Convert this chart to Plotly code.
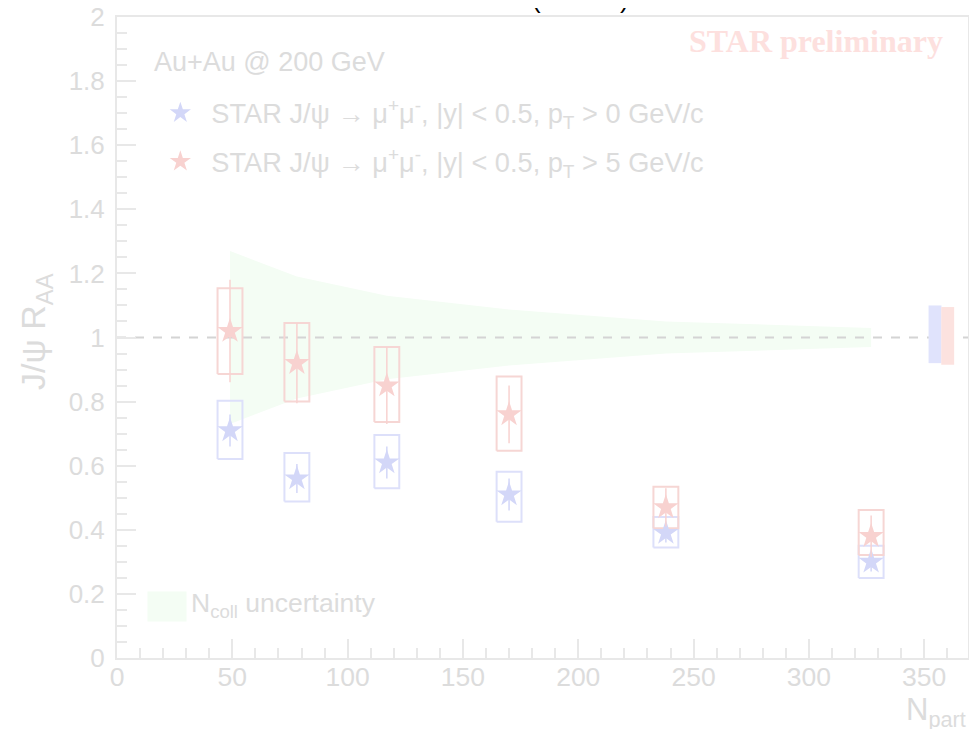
import plotly.graph_objects as go

# ---------------- data ----------------
npart = [49, 78, 117, 170, 238, 327]

# pT > 0 GeV/c (blue)
raa_pt0 = [0.71, 0.56, 0.61, 0.51, 0.39, 0.30]
stat_pt0 = [0.05, 0.045, 0.05, 0.05, 0.03, 0.03]
sys_hi_pt0 = [0.803, 0.64, 0.696, 0.581, 0.44, 0.35]
sys_lo_pt0 = [0.621, 0.488, 0.53, 0.425, 0.345, 0.25]

# pT > 5 GeV/c (red)
raa_pt5 = [1.02, 0.92, 0.85, 0.76, 0.47, 0.38]
stat_pt5 = [0.16, 0.125, 0.12, 0.09, 0.06, 0.065]
sys_hi_pt5 = [1.154, 1.045, 0.97, 0.878, 0.534, 0.462]
sys_lo_pt5 = [0.886, 0.80, 0.736, 0.647, 0.405, 0.321]

# Ncoll uncertainty band (half width around 1)
ncoll_unc = [0.27, 0.19, 0.13, 0.087, 0.05, 0.03]

# global uncertainties drawn at the right edge
glob_x = [354.7, 360.2]
glob_lo = [0.92, 0.915]
glob_hi = [1.10, 1.095]
glob_halfw = 2.8

box_halfw = 5.4

x_ticks = [0, 50, 100, 150, 200, 250, 300, 350]
y_ticks = [0, 0.2, 0.4, 0.6, 0.8, 1, 1.2, 1.4, 1.6, 1.8, 2]
y_ticklabels = ["0", "0.2", "0.4", "0.6", "0.8", "1", "1.2", "1.4", "1.6", "1.8", "2"]

# ---------------- style ----------------
BLUE = "#d3d7f8"
BLUE_BOX = "#dde0fa"
RED = "#f8d2d0"
RED_BOX = "#f6d6d4"
GREEN = "#f4fdf4"
GRAY_TXT = "#dcdcdc"
GRAY_AX = "#e8e8e8"
FONT = "Liberation Sans, Arial, sans-serif"


def box_path(xs, lo, hi, w):
    px, py = [], []
    for x, l, h in zip(xs, lo, hi):
        px += [x - w, x + w, x + w, x - w, x - w, None]
        py += [l, l, h, h, l, None]
    return px, py


fig = go.Figure()

# Ncoll uncertainty band
band_x = npart + npart[::-1]
band_y = [1 + u for u in ncoll_unc] + [1 - u for u in ncoll_unc[::-1]]
fig.add_trace(go.Scatter(
    x=band_x, y=band_y, fill="toself", fillcolor=GREEN, mode="none",
    name="N<sub>coll</sub> uncertainty", showlegend=False, hoverinfo="skip"))

# dashed line at unity
fig.add_trace(go.Scatter(
    x=[0, 369], y=[1, 1], mode="lines", showlegend=False,
    line=dict(color="#d4d4d4", width=2, dash="dash"), hoverinfo="skip"))

# global uncertainty boxes
for gx, lo, hi, col in zip(glob_x, glob_lo, glob_hi, ["#e0e3fc", "#fce2df"]):
    fig.add_trace(go.Scatter(
        x=[gx - glob_halfw, gx + glob_halfw, gx + glob_halfw, gx - glob_halfw, gx - glob_halfw],
        y=[lo, lo, hi, hi, lo], fill="toself", fillcolor=col, mode="none",
        showlegend=False, hoverinfo="skip"))

# systematic boxes
bx, by = box_path(npart, sys_lo_pt0, sys_hi_pt0, box_halfw)
fig.add_trace(go.Scatter(x=bx, y=by, mode="lines", line=dict(color=BLUE_BOX, width=2),
                         showlegend=False, hoverinfo="skip"))
rx, ry = box_path(npart, sys_lo_pt5, sys_hi_pt5, box_halfw)
fig.add_trace(go.Scatter(x=rx, y=ry, mode="lines", line=dict(color=RED_BOX, width=2),
                         showlegend=False, hoverinfo="skip"))

# data points
fig.add_trace(go.Scatter(
    x=npart, y=raa_pt0, mode="markers",
    marker=dict(symbol="star", size=19, color=BLUE, line=dict(width=0)),
    error_y=dict(type="data", array=stat_pt0, color=BLUE, thickness=1.5, width=0),
    name="STAR J/ψ → μ<sup>+</sup>μ<sup>-</sup>, |y| &lt; 0.5, p<sub>T</sub> &gt; 0 GeV/c",
    legend="legend"))
fig.add_trace(go.Scatter(
    x=npart, y=raa_pt5, mode="markers",
    marker=dict(symbol="star", size=19, color=RED, line=dict(width=0)),
    error_y=dict(type="data", array=stat_pt5, color=RED, thickness=1.5, width=0),
    name="STAR J/ψ → μ<sup>+</sup>μ<sup>-</sup>, |y| &lt; 0.5, p<sub>T</sub> &gt; 5 GeV/c",
    legend="legend2"))

leg_common = dict(xanchor="left", yanchor="middle", bgcolor="rgba(0,0,0,0)",
                  font=dict(size=27.2, color=GRAY_TXT), itemwidth=52)

# the page body adds an 8px offset, so the figure is sized to fit the window
fig.update_layout(
    width=961, height=721,
    margin=dict(l=109, r=1, t=9, b=71, autoexpand=False),
    paper_bgcolor="white", plot_bgcolor="white",
    font=dict(family=FONT, color=GRAY_TXT, size=22),
    showlegend=True,
    legend=dict(x=0.038, y=0.850, **leg_common),
    legend2=dict(x=0.038, y=0.774, **leg_common),
    xaxis=dict(range=[0, 369], tickvals=x_ticks, ticks="inside", ticklen=19,
               tickcolor=GRAY_AX, tickwidth=1.5, showline=True, linecolor=GRAY_AX,
               linewidth=2, mirror=True, showgrid=False, zeroline=False,
               tickfont=dict(size=26.5, color=GRAY_TXT), ticklabelstandoff=-6,
               ticklabeloverflow="allow",
               minor=dict(dtick=10, ticks="inside", ticklen=10, tickcolor=GRAY_AX)),
    yaxis=dict(range=[0, 2], tickvals=y_ticks, ticktext=y_ticklabels, ticks="inside",
               ticklen=19, tickcolor=GRAY_AX, tickwidth=1.5, showline=True,
               linecolor=GRAY_AX, linewidth=2, mirror=True, showgrid=False,
               zeroline=False, tickfont=dict(size=26, color=GRAY_TXT),
               ticklabelstandoff=5, ticklabeloverflow="allow",
               minor=dict(dtick=0.05, ticks="inside", ticklen=10, tickcolor=GRAY_AX)),
)

# texts
fig.add_annotation(text="Au+Au @ 200 GeV", xref="paper", yref="paper",
                   x=0.041, y=0.930, xanchor="left", yanchor="middle", showarrow=False,
                   font=dict(size=27, color=GRAY_TXT))
fig.add_annotation(text="<b>STAR preliminary</b>", xref="paper", yref="paper",
                   x=0.973, y=0.963, xanchor="right", yanchor="middle", showarrow=False,
                   font=dict(size=32, color="#fde0de",
                             family="Liberation Serif, Times New Roman, serif"))
fig.add_annotation(text="J/ψ R<sub>AA</sub>", xref="paper", yref="paper",
                   x=-0.095, y=0.509, textangle=-90, showarrow=False,
                   xanchor="center", yanchor="middle",
                   font=dict(size=34, color=GRAY_TXT))
fig.add_annotation(text="N<sub>part</sub>", xref="paper", yref="paper",
                   x=1.0, y=-0.05, xanchor="right", yanchor="top", showarrow=False,
                   font=dict(size=31, color=GRAY_TXT))
# Ncoll uncertainty legend entry (green square + label)
fig.add_annotation(text=" ", xref="paper", yref="paper",
                   x=0.035, y=0.080, xanchor="left", yanchor="middle", showarrow=False,
                   width=38, height=29, bgcolor=GREEN, borderpad=0)
fig.add_annotation(text="N<sub>coll</sub> uncertainty", xref="paper", yref="paper",
                   x=0.085, y=0.083, xanchor="left", yanchor="middle", showarrow=False,
                   font=dict(size=26.5, color=GRAY_TXT))
# cut-off title at the very top
fig.add_annotation(text="(           )", xref="paper", yref="paper",
                   x=0.545, y=1.0, yshift=1, xanchor="center", yanchor="bottom",
                   showarrow=False, font=dict(size=26, color="black"))

fig.write_html("out.html")
